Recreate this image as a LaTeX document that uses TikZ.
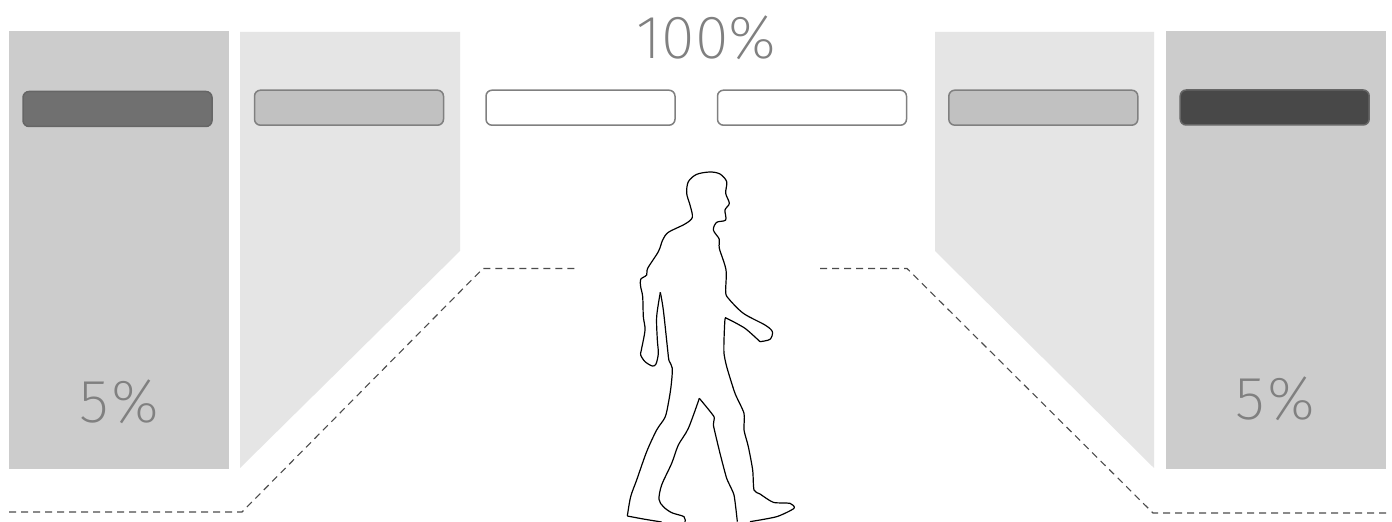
\documentclass[tikz,border=0pt]{standalone}
\usepackage{fontspec}
\newfontfamily\thinfont{Fira Sans ExtraLight}
\definecolor{panelA}{HTML}{CCCCCC}
\definecolor{panelB}{HTML}{E5E5E5}
\definecolor{labelgray}{HTML}{808080}
\tikzset{
  lamp/.style={draw=#1,line width=0.75pt,rounded corners=3pt,minimum width=94.5pt,minimum height=17.5pt,inner sep=0pt},
  dashline/.style={draw=black!70,line width=0.55pt,dash pattern=on 3.5pt off 2.5pt},
  pct/.style={inner sep=0pt,text=labelgray,font=\thinfont\fontsize{30.5}{31}\selectfont},
  outline/.style={draw=black,line width=0.6pt,line join=round}
}
\begin{document}
\begin{tikzpicture}[x=0.5pt,y=-0.5pt]
\useasboundingbox (0,0) rectangle (1392,522);
\fill[white] (0,0) rectangle (1392,522);
% panels
\fill[panelA] (9,31) rectangle (229,469);
\fill[panelA] (1166,31) rectangle (1386,469);
\fill[panelB] (240,32) -- (460,32) -- (460,251) -- (240,468) -- cycle;
\fill[panelB] (935,32) -- (1154,32) -- (1154,468) -- (935,251) -- cycle;
% lamps
\node[lamp={black!60},fill={rgb,255:red,112;green,112;blue,112}] (L1) at (117.5,109) {};
\node[lamp={black!50},fill={rgb,255:red,193;green,193;blue,193}] (L2) at (349,107.7) {};
\node[lamp={black!50},fill=white] (L3) at (580.5,107.7) {};
\node[lamp={black!50},fill=white] (L4) at (812,107.7) {};
\node[lamp={black!50},fill={rgb,255:red,193;green,193;blue,193}] (L5) at (1043.3,107.7) {};
\node[lamp={black!60},fill={rgb,255:red,72;green,72;blue,72}] (L6) at (1274.7,107.5) {};
% labels
\node[pct] (top) at (706.5,38) {100\%};
\node[pct] (leftpct) at (119.5,402) {5\kern1pt\%};
\node[pct] (rightpct) at (1275.5,399) {5\kern1pt\%};
% dashed lines
\coordinate (a1) at (9,512);
\coordinate (a2) at (242,512);
\coordinate (a3) at (483,268.5);
\coordinate (a4) at (577,268.5);
\coordinate (b1) at (820,268.5);
\coordinate (b2) at (907,268.5);
\coordinate (b3) at (1153,513);
\coordinate (b4) at (1386,513);
\draw[dashline] (a1) -- (a2) -- (a3) -- (a4);
\draw[dashline] (b1) -- (b2) -- (b3) -- (b4);
% person
\begin{scope}[shift={(600,160)},x=0.16667pt,y=-0.16667pt]
\draw[outline] plot[smooth,tension=0.5] coordinates {
(185,1086)(130,1077)(82,1068)};
\draw[outline] plot[smooth,tension=0.5] coordinates {
(82,1068)(92,1010)(110,960)(140,875)(170,810)(195,772)(205,730)(213,680)(217,625)(207,602)(203,570)(190,450)(181,397)};
\draw[outline] plot[smooth,tension=0.5] coordinates {
(181,397)(170,470)(172,540)(175,580)(168,612)(157,618)(135,605)(122,585)(124,570)(135,510)(130,470)(128,410)(122,380)(122,358)(140,345)(143,325)(175,275)(188,240)(205,217)(255,192)(277,172)(270,135)(260,100)(265,65)(290,43)(330,36)(360,42)(380,65)(377,100)(388,130)(375,150)(377,180)(350,187)(340,210)(358,238)(358,265)(378,330)(377,395)(385,415)(430,460)(495,495)(517,515)(510,538)(480,545)};
\draw[outline] plot[smooth,tension=0.4] coordinates {
(480,545)(435,505)(382,476)(375,478)(372,540)(372,580)(380,620)(405,700)(432,760)(432,810)(445,860)(458,930)(462,990)(480,1002)(520,1027)(570,1030)(582,1045)(530,1070)(450,1085)};
\draw[outline] plot[smooth,tension=0.5] coordinates {
(255,1086)(252,1070)(215,1058)(190,1040)(177,1018)(185,975)(215,910)(235,855)(265,805)(298,715)};
\draw[outline] plot[smooth,tension=0.3] coordinates {
(298,715)(342,770)(340,795)(360,880)(380,955)(402,1005)(412,1085)};
\end{scope}
\end{tikzpicture}
\end{document}
